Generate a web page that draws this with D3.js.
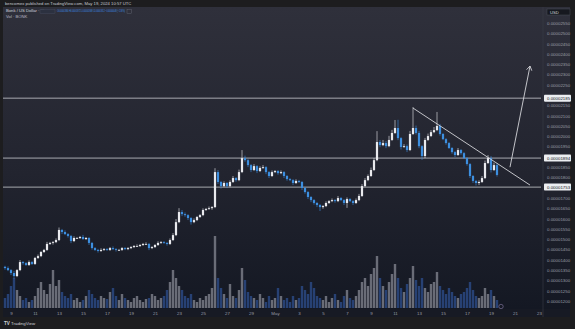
<!DOCTYPE html>
<html>
<head>
<meta charset="utf-8">
<script src="https://cdn.jsdelivr.net/npm/d3@7"></script>
<style>
body{margin:0;background:#1d1d1f;}
svg{display:block;font-family:"Liberation Sans",Arial,sans-serif;}
</style>
</head>
<body>
<div id="content"></div>
<script>
// BONK / USD, 6h bars, prices in millionths of a dollar
var firstBar = new Date(Date.UTC(2024, 3, 8, 12));
var firstOpen = 13.66;
var closes = [
 13.60,13.50,13.36,13.21,13.50,13.89,13.84,13.75,13.89,13.80,
 14.09,14.18,14.38,14.48,14.77,14.82,14.86,14.96,15.45,15.35,
 15.25,15.16,14.91,15.06,15.06,15.11,15.01,15.06,14.82,14.57,
 14.48,14.43,14.48,14.52,14.48,14.57,14.52,14.48,14.48,14.57,
 14.52,14.57,14.62,14.67,14.67,14.72,14.77,14.77,14.57,14.62,
 14.72,14.82,14.86,14.82,14.77,14.96,15.20,15.83,16.32,16.22,
 16.17,16.03,15.83,15.93,16.08,16.17,16.42,16.47,16.51,16.56,
 18.26,17.78,17.58,17.73,17.58,17.78,17.97,17.87,18.26,18.94,
 18.84,18.60,18.36,18.55,18.31,18.46,18.50,18.26,18.07,18.26,
 18.31,18.21,18.26,18.07,17.92,17.87,17.73,17.83,17.78,17.49,
 17.29,17.05,16.90,16.76,16.66,16.56,16.61,16.76,16.85,16.90,
 16.85,17.00,16.90,16.76,16.95,16.85,16.76,16.90,17.10,17.58,
 17.87,18.07,18.36,18.84,19.72,19.57,19.67,19.52,19.82,20.16,
 20.40,19.91,19.48,19.52,19.33,20.11,20.40,20.16,19.52,19.04,
 19.82,20.01,20.20,20.30,20.50,20.11,19.86,19.67,19.43,19.23,
 19.09,19.33,19.18,18.94,18.65,18.07,17.83,17.73,17.78,17.97,
 18.70,18.94,18.36,18.60,18.12];
var upperWick = [
 .05,.08,.05,.10,.05,.10,.05,.05,.08,.05,
 .05,.08,.05,.05,.10,.05,.05,.08,.12,.05,
 .08,.05,.05,.08,.05,.05,.10,.05,.05,.05,
 .05,.05,.08,.05,.05,.05,.08,.05,.05,.05,
 .05,.05,.05,.05,.08,.05,.05,.08,.05,.05,
 .05,.08,.05,.05,.05,.08,.10,.15,.19,.10,
 .08,.05,.05,.08,.05,.05,.08,.05,.08,.05,
 .19,.10,.05,.08,.05,.08,.10,.05,.12,.39,
 .12,.05,.05,.10,.05,.08,.10,.05,.05,.08,
 .05,.05,.08,.05,.05,.05,.05,.08,.05,.05,
 .05,.05,.05,.05,.05,.05,.05,.08,.05,.08,
 .05,.10,.05,.05,.08,.05,.05,.08,.10,.10,
 .10,.08,.12,.10,.53,.10,.15,.10,.20,.15,
 .39,.40,.05,.10,.08,.15,1.02,.12,.10,.05,
 .10,.12,.10,.15,.68,.10,.05,.05,.05,.05,
 .05,.10,.05,.05,.05,.05,.05,.05,.08,.10,
 .12,.15,.10,.12,.10];
var lowerWick = [
 .08,.05,.10,.12,.05,.05,.08,.05,.05,.05,
 .05,.05,.05,.05,.05,.05,.08,.05,.05,.10,
 .05,.08,.10,.05,.05,.05,.05,.05,.10,.08,
 .05,.08,.05,.05,.05,.05,.05,.08,.05,.05,
 .05,.05,.05,.05,.05,.05,.05,.05,.10,.05,
 .05,.05,.05,.05,.08,.05,.05,.05,.05,.10,
 .08,.10,.12,.05,.05,.05,.05,.05,.05,.08,
 .05,.10,.12,.05,.10,.05,.05,.08,.05,.05,
 .08,.10,.10,.05,.10,.05,.05,.10,.10,.05,
 .05,.08,.05,.10,.08,.05,.10,.05,.05,.10,
 .08,.10,.10,.08,.10,.19,.08,.05,.05,.05,
 .08,.05,.05,.10,.24,.05,.10,.05,.05,.05,
 .05,.05,.05,.05,.05,.10,.05,.10,.05,.05,
 .05,.10,.12,.05,.10,.05,.05,.08,.10,.19,
 .10,.05,.05,.05,.05,.08,.05,.08,.05,.08,
 .10,.05,.08,.05,.08,.10,.10,.12,.10,.05,
 .05,.05,.12,.05,.08];
// volume in billions of BONK
var volumes = [
 10,14,22,30,18,12,8,10,6,8,
 12,20,26,18,14,24,38,22,28,16,
 12,10,14,8,10,6,8,12,18,14,
 10,8,12,10,9,16,20,12,8,14,
 10,8,6,10,12,8,6,9,10,14,
 12,8,10,12,18,26,38,30,22,18,
 12,10,14,8,6,10,8,12,14,20,
 72,30,20,14,10,24,12,10,18,40,
 28,16,12,10,8,14,10,6,12,8,
 10,20,12,8,10,6,12,8,10,22,
 18,14,26,20,12,10,8,12,6,10,
 14,8,6,12,18,10,8,12,18,26,
 30,22,34,40,52,30,22,18,26,34,
 44,30,20,16,24,30,42,28,22,30,
 20,16,24,26,36,22,18,14,20,16,
 12,10,14,16,20,26,18,12,10,12,
 20,14,18,12,8];

var levelPrices = [21.85, 18.94, 17.53];
var trendLine = [{t: Date.UTC(2024,4,12,12), p: 21.37}, {t: Date.UTC(2024,4,22,6), p: 17.63}];
var arrowLine = [{t: Date.UTC(2024,4,20,14), p: 18.50}, {t: Date.UTC(2024,4,22,6), p: 23.41}];
var priceTicks = d3.range(12, 25.51, 0.5);

var headerText = "bencomex published on TradingView.com, May 19, 2024 10:57 UTC";
var symbolText = "Bonk / US Dollar · 6h";
var ohlcText = "O0.00001860 H0.00001872 L0.00001808 C0.00001812 −0.00000048 (−2.58%)";
var volText = "Vol · BONK";

var width = 575, height = 329;
var pane = {left: 3, right: 541, top: 7, bottom: 309};
var volBase = 308;
var upColor = "#e9eaee", downColor = "#3d8fe0";

var bars = closes.map(function(c, i) {
  var o = i === 0 ? firstOpen : closes[i - 1];
  return {
    t: d3.utcHour.offset(firstBar, 6 * i),
    o: o, c: c,
    h: Math.max(o, c) + upperWick[i],
    l: Math.min(o, c) - lowerWick[i],
    v: volumes[i]
  };
});

var x = d3.scaleUtc()
  .domain([firstBar, d3.utcHour.offset(firstBar, 1072)])
  .range([5, pane.right]);
var y = d3.scaleLinear().domain([12, 25.5]).range([301, 23]);
var yVol = d3.scaleLinear().domain([0, 100]).range([0, 100]);
var fmt = function(v) { return (v / 1e6).toFixed(8); };

var svg = d3.select("#content").append("svg")
  .attr("width", width).attr("height", height);

var defs = svg.append("defs");
var grad = defs.append("linearGradient").attr("id", "bg").attr("x1", 0).attr("x2", 0).attr("y1", 0).attr("y2", 1);
grad.append("stop").attr("offset", "0%").attr("stop-color", "#2f303b");
grad.append("stop").attr("offset", "55%").attr("stop-color", "#22242f");
grad.append("stop").attr("offset", "100%").attr("stop-color", "#141823");
defs.append("clipPath").attr("id", "plot").append("rect")
  .attr("x", pane.left).attr("y", pane.top)
  .attr("width", pane.right - pane.left).attr("height", pane.bottom - pane.top);

svg.append("rect").attr("width", width).attr("height", height).attr("fill", "#1d1d1f");
svg.append("rect").attr("x", pane.left).attr("y", pane.top)
  .attr("width", 570 - pane.left).attr("height", pane.bottom - pane.top)
  .attr("fill", "url(#bg)");
// time axis strip
svg.append("rect").attr("x", pane.left).attr("y", pane.bottom)
  .attr("width", 570 - pane.left).attr("height", 8).attr("fill", "#171a24");
svg.append("line").attr("x1", pane.right + 2).attr("x2", pane.right + 2)
  .attr("y1", pane.top).attr("y2", pane.bottom + 8)
  .attr("stroke", "#3a3d47").attr("stroke-width", 0.6);

var plot = svg.append("g").attr("clip-path", "url(#plot)");

// volume
plot.selectAll(".vol").data(bars).enter().append("rect")
  .attr("x", function(d) { return x(d.t) - 1.2; })
  .attr("width", 2.4)
  .attr("y", function(d) { return volBase - yVol(d.v); })
  .attr("height", function(d) { return yVol(d.v); })
  .attr("fill", function(d) { return d.c >= d.o ? "#858893" : "#2e4f8f"; })
  .attr("opacity", 0.75);

// horizontal levels
plot.selectAll(".level").data(levelPrices).enter().append("line")
  .attr("x1", pane.left).attr("x2", pane.right)
  .attr("y1", function(d) { return y(d); }).attr("y2", function(d) { return y(d); })
  .attr("stroke", "#c9cbd0").attr("stroke-width", 0.8);

// candles
plot.selectAll(".wick").data(bars).enter().append("line")
  .attr("x1", function(d) { return x(d.t); }).attr("x2", function(d) { return x(d.t); })
  .attr("y1", function(d) { return y(d.h); }).attr("y2", function(d) { return y(d.l); })
  .attr("stroke", function(d) { return d.c >= d.o ? upColor : downColor; })
  .attr("stroke-width", 0.6);
plot.selectAll(".body").data(bars).enter().append("rect")
  .attr("x", function(d) { return x(d.t) - 1.1; })
  .attr("width", 2.2)
  .attr("y", function(d) { return y(Math.max(d.o, d.c)); })
  .attr("height", function(d) { return Math.max(0.8, Math.abs(y(d.o) - y(d.c))); })
  .attr("fill", function(d) { return d.c >= d.o ? upColor : downColor; });

// drawings
var drawLine = d3.line().x(function(d) { return x(new Date(d.t)); }).y(function(d) { return y(d.p); });
plot.append("path").attr("d", drawLine(trendLine))
  .attr("stroke", "#d4d5d9").attr("stroke-width", 0.9).attr("fill", "none");
plot.append("path").attr("d", drawLine(arrowLine))
  .attr("stroke", "#d4d5d9").attr("stroke-width", 0.9).attr("fill", "none");
var tipX = x(new Date(arrowLine[1].t)), tipY = y(arrowLine[1].p);
var ang = Math.atan2(y(arrowLine[1].p) - y(arrowLine[0].p), x(new Date(arrowLine[1].t)) - x(new Date(arrowLine[0].t)));
var head = [ang + Math.PI * 0.82, ang - Math.PI * 0.82].map(function(a) {
  return [tipX + 5 * Math.cos(a), tipY + 5 * Math.sin(a)];
});
plot.append("path")
  .attr("d", "M" + head[0] + "L" + tipX + "," + tipY + "L" + head[1])
  .attr("stroke", "#d4d5d9").attr("stroke-width", 0.9).attr("fill", "none");

// price axis (ticks hidden where a level label sits)
var shownTicks = priceTicks.filter(function(v) {
  return levelPrices.every(function(l) { return Math.abs(y(v) - y(l)) > 6; });
});
var yAxis = svg.append("g").attr("transform", "translate(" + (pane.right + 2) + ",0)")
  .call(d3.axisRight(y).tickValues(shownTicks).tickFormat(fmt).tickSize(0).tickPadding(4));
yAxis.select(".domain").remove();
yAxis.selectAll("text").attr("fill", "#9a9da6").attr("font-size", 4.4)
  .attr("font-family", "Liberation Sans, Arial, sans-serif");

var lvl = svg.selectAll(".lvlLabel").data(levelPrices).enter().append("g")
  .attr("transform", function(d) { return "translate(" + (pane.right + 3) + "," + y(d) + ")"; });
lvl.append("rect").attr("x", 0).attr("y", -3.5).attr("width", 27).attr("height", 7).attr("fill", "#eceef2").attr("rx", 0.8);
lvl.append("text").attr("x", 3).attr("dy", "0.35em").attr("font-size", 4.4).attr("fill", "#131722").text(fmt);

svg.append("rect").attr("x", 547).attr("y", 9).attr("width", 23).attr("height", 6)
  .attr("fill", "#16181f").attr("stroke", "#4a4d57").attr("stroke-width", 0.5);
svg.append("text").attr("x", 550).attr("y", 13.6).attr("font-size", 4.2).attr("fill", "#d1d4dc").text("USD");

// time axis
var xAxis = svg.append("g").attr("transform", "translate(0," + (pane.bottom + 1) + ")")
  .call(d3.axisBottom(x).ticks(d3.utcDay.every(2)).tickSize(0).tickPadding(2)
    .tickFormat(function(d) { return d.getUTCDate() === 1 ? d3.utcFormat("%b")(d) : d.getUTCDate(); }));
xAxis.select(".domain").remove();
xAxis.selectAll("text").attr("fill", "#9a9da6").attr("font-size", 4.4)
  .attr("font-family", "Liberation Sans, Arial, sans-serif");

// small chart scroll icon
svg.append("circle").attr("cx", 501).attr("cy", 306.5).attr("r", 2.2)
  .attr("fill", "none").attr("stroke", "#8a7ca8").attr("stroke-width", 0.6);

// header
svg.append("text").attr("x", 5).attr("y", 4.6).attr("font-size", 4.2).attr("fill", "#c5c8d0").text(headerText);
svg.append("text").attr("x", 6).attr("y", 12.4).attr("font-size", 4.2).attr("fill", "#d1d4dc").text(symbolText);
svg.append("rect").attr("x", 40).attr("y", 9.2).attr("width", 15).attr("height", 4.6).attr("fill", "#2c3140").attr("stroke", "#4a4f60").attr("stroke-width", 0.4);
svg.append("text").attr("x", 57).attr("y", 12.4).attr("font-size", 4.2).attr("fill", downColor)
  .attr("textLength", 68).attr("lengthAdjust", "spacingAndGlyphs").text(ohlcText);
svg.append("rect").attr("x", 127).attr("y", 9.4).attr("width", 4.5).attr("height", 4.2).attr("fill", "none").attr("stroke", "#6a6e7a").attr("stroke-width", 0.4);
svg.append("text").attr("x", 6).attr("y", 18.4).attr("font-size", 4.2).attr("fill", "#b8bbc4").text(volText);

// footer logo
svg.append("text").attr("x", 4).attr("y", 325).attr("font-size", 4.6).attr("font-weight", "bold").attr("fill", "#d1d4dc").text("TV");
svg.append("text").attr("x", 11).attr("y", 325).attr("font-size", 4.4).attr("fill", "#d1d4dc").text("TradingView");
</script>
</body>
</html>
